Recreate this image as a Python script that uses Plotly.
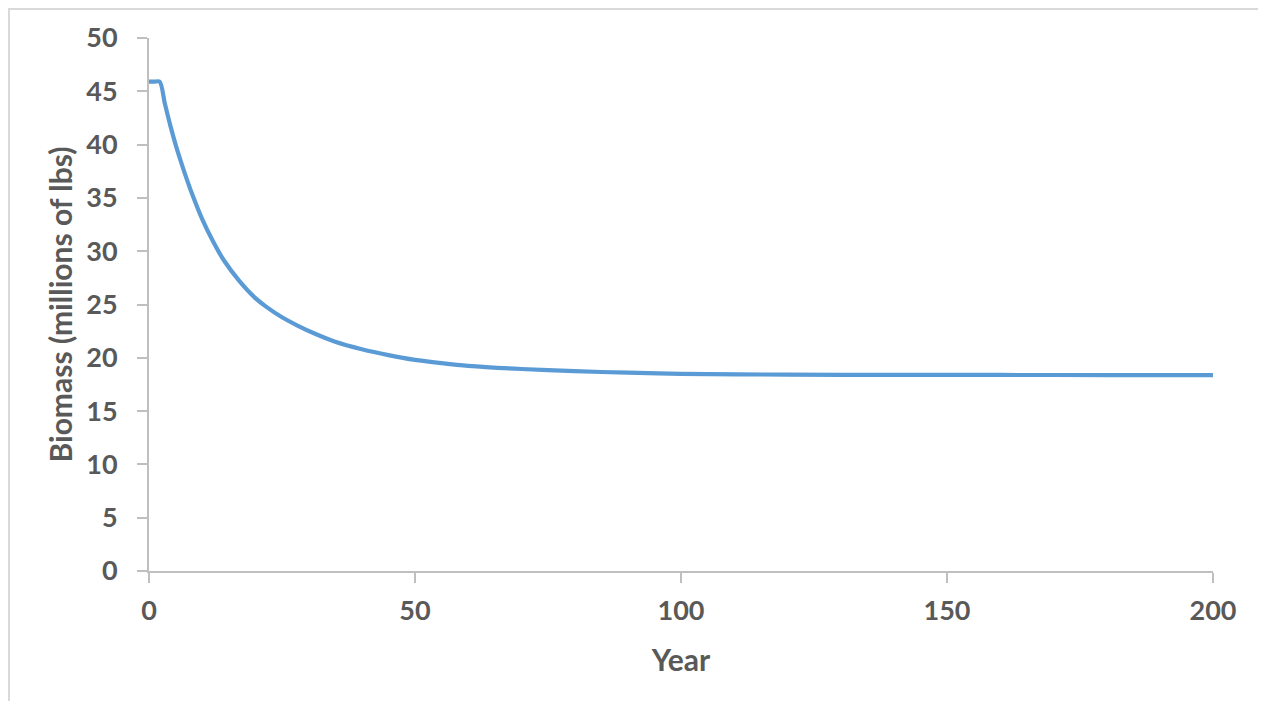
import plotly.graph_objects as go

years = [0, 1, 2, 3, 4, 5, 6, 7, 8, 10, 12, 14, 17, 20, 22, 25, 28, 31, 35, 40,
         45, 50, 55, 60, 70, 80, 90, 100, 120, 140, 160, 180, 200]
biomass = [45.9, 45.9, 45.9, 43.8, 41.8, 40.0, 38.4, 36.9, 35.5, 33.0, 30.95, 29.2,
           27.2, 25.6, 24.8, 23.8, 23.0, 22.3, 21.5, 20.8,
           20.25, 19.8, 19.5, 19.25, 18.95, 18.75, 18.6, 18.5, 18.42, 18.4, 18.39, 18.38, 18.38]

x_ticks = [0, 50, 100, 150, 200]
y_ticks = [0, 5, 10, 15, 20, 25, 30, 35, 40, 45, 50]

FONT = "Lato"
GRAY = "#595959"
AXIS = "#BFBFBF"

fig = go.Figure()
fig.add_trace(go.Scatter(x=years, y=biomass, mode="lines",
                         line=dict(color="#5B9BD5", width=4.2, shape="spline", smoothing=0.8),
                         showlegend=False, hoverinfo="skip"))

fig.update_layout(
    width=1250, height=693,
    margin=dict(l=141, r=45, t=30, b=130),
    paper_bgcolor="white", plot_bgcolor="white",
    font=dict(family=FONT, color=GRAY, size=27),
    xaxis=dict(range=[0, 200], tickvals=x_ticks, showgrid=False, zeroline=False,
               showline=True, linecolor=AXIS, linewidth=2,
               ticks="outside", ticklen=10, tickwidth=2, tickcolor=AXIS,
               ticklabelstandoff=5,
               tickfont=dict(family=FONT, size=27, color=GRAY, weight="bold"),
               title=dict(text="<b>Year</b>", standoff=25,
                          font=dict(family=FONT, size=30, color=GRAY))),
    yaxis=dict(range=[0, 50], tickvals=y_ticks, showgrid=False, zeroline=False,
               showline=True, linecolor=AXIS, linewidth=2,
               ticks="outside", ticklen=10, tickwidth=2, tickcolor=AXIS,
               ticklabelstandoff=14,
               tickfont=dict(family=FONT, size=27, color=GRAY, weight="bold"),
               title=dict(text="<b>Biomass (millions of lbs)</b>", standoff=5,
                          font=dict(family=FONT, size=30, color=GRAY))),
    shapes=[dict(type="rect", xref="paper", yref="paper",
                 x0=-140 / 1064, x1=1.2, y0=-0.5, y1=1 + 29 / 533,
                 line=dict(color="#D9D9D9", width=2), fillcolor="rgba(0,0,0,0)",
                 layer="below")],
)

fig.write_html("out.html")
